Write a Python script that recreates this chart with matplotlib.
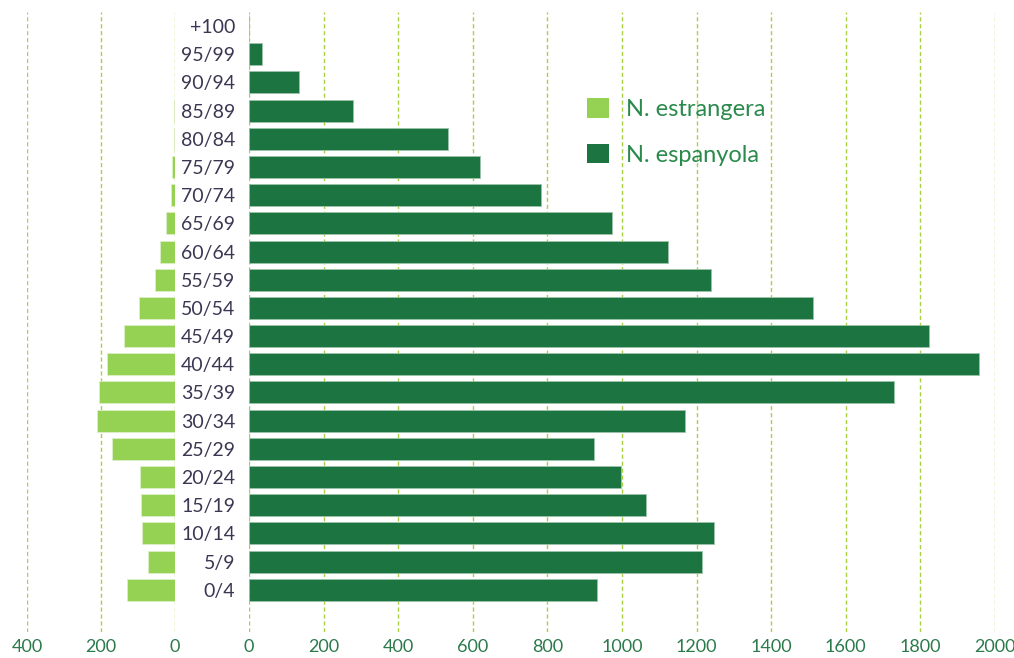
import matplotlib.pyplot as plt
from matplotlib.patches import Patch

grups = ["0/4", "5/9", "10/14", "15/19", "20/24", "25/29", "30/34", "35/39",
         "40/44", "45/49", "50/54", "55/59", "60/64", "65/69", "70/74",
         "75/79", "80/84", "85/89", "90/94", "95/99", "+100"]
espanyola = [933, 1214, 1247, 1064, 997, 925, 1169, 1729, 1957, 1823, 1512,
             1239, 1123, 973, 783, 619, 534, 279, 134, 35, 0]
estrangera = [130, 73, 89, 91, 95, 169, 212, 205, 184, 139, 97, 55, 41, 25,
              12, 9, 2, 4, 0, 0, 0]

fosc = "#1C7441"
clar = "#95D153"
graella = "#A8CF45"
text_eix = "#2B7A4B"
text_cat = "#3C3652"

W, H = 1014, 658
fig = plt.figure(figsize=(W / 100, H / 100), dpi=100)
bottom = (H - 632) / H
height = 620 / H
axL = fig.add_axes([27 / W, bottom, 148 / W, height])
axR = fig.add_axes([249 / W, bottom, 746 / W, height])

y = list(range(len(grups)))
axL.barh(y, estrangera, height=0.78, color=clar, edgecolor="#DDEFC8", linewidth=0.6, zorder=3)
axR.barh(y, espanyola, height=0.78, color=fosc, edgecolor="#9CC3AA", linewidth=0.6, zorder=3)

axL.set_xlim(400, 0)
axL.set_xticks([400, 200, 0])
axR.set_xlim(0, 2000)
axR.set_xticks(range(0, 2001, 200))

for ax in (axL, axR):
    ax.set_ylim(-1.5, 20.5)
    ax.grid(axis="x", linestyle=(0, (3, 2)), color=graella, linewidth=1, zorder=0)
    for s in ax.spines.values():
        s.set_visible(False)
    ax.tick_params(axis="x", length=0, pad=5, labelsize=13, labelcolor=text_eix)
    for lab in ax.get_xticklabels():
        lab.set_fontfamily("Lato")

axL.set_yticks([])
axR.set_yticks(y, grups)
axR.tick_params(axis="y", length=0, pad=10, labelsize=14, labelcolor=text_cat)
for lab in axR.get_yticklabels():
    lab.set_fontfamily("Lato")

handles = [Patch(facecolor=clar, label="N. estrangera"),
           Patch(facecolor=fosc, label="N. espanyola")]
leg = fig.legend(handles=handles, loc="upper left", bbox_to_anchor=(566 / W, 1 - 77 / H),
                 frameon=False, handlelength=0.9, handleheight=0.9,
                 handletextpad=0.75, labelspacing=1.0, prop={"family": "Lato", "size": 17})
for t in leg.get_texts():
    t.set_color("#2A8A4C")

fig.savefig("out.png", dpi=100)
